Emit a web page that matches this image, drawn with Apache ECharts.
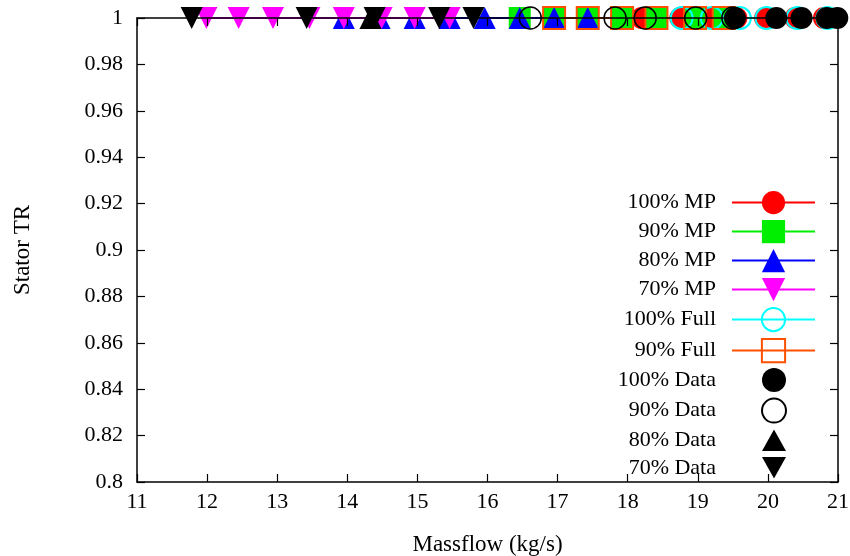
<!DOCTYPE html>
<html>
<head>
<meta charset="utf-8">
<script src="https://cdn.jsdelivr.net/npm/echarts@6/dist/echarts.min.js"></script>
<style>html,body{margin:0;padding:0;background:#fff;}#c{width:850px;height:556px;}</style>
</head>
<body>
<div id="c"></div>
<script>
const xTicks = [11,12,13,14,15,16,17,18,19,20,21];
const yTicks = [0.8,0.82,0.84,0.86,0.88,0.9,0.92,0.94,0.96,0.98,1];

const mp100X = [18.2, 18.75, 19.15, 19.55, 19.96, 20.39, 20.8];
const mp100Y = [1, 1, 1, 1, 1, 1, 1];
const mp90X = [16.46, 16.95, 17.43, 17.92, 18.41, 18.96, 19.37];
const mp90Y = [1, 1, 1, 1, 1, 1, 1];
const mp80X = [13.95, 14.46, 14.96, 15.46, 15.96, 16.46, 16.95, 17.43];
const mp80Y = [1, 1, 1, 1, 1, 1, 1, 1];
const mp70X = [11.99, 12.45, 12.94, 13.46, 13.95, 14.49, 14.96, 15.46];
const mp70Y = [1, 1, 1, 1, 1, 1, 1, 1];
const full100X = [18.77, 19.2, 19.6, 19.98, 20.42, 20.85];
const full100Y = [1, 1, 1, 1, 1, 1];
const full90X = [16.95, 17.43, 17.92, 18.41, 18.96, 19.37];
const full90Y = [1, 1, 1, 1, 1, 1];
const data100X = [19.53, 20.12, 20.48, 20.84, 20.99];
const data100Y = [1, 1, 1, 1, 1];
const data90X = [16.61, 17.82, 18.25, 18.97, 19.5];
const data90Y = [1, 1, 1, 1, 1];
const data80X = [14.33];
const data80Y = [1];
const data70X = [11.78, 13.42, 14.39, 15.31, 15.8];
const data70Y = [1, 1, 1, 1, 1];

const FONT = 'Liberation Serif';
const DOWN = 'path://M0,0L20,0L10,18Z';
const UP = 'path://M10,0L20,18L0,18Z';
const pts = (xs, ys) => xs.map((x, i) => [x, ys[i]]);

function lineSeries(name, xs, ys, color, symbol, open) {
  return {
    name, type: 'line', data: pts(xs, ys), xAxisIndex: 0, yAxisIndex: 0,
    symbol, symbolSize: 22, showAllSymbol: true, clip: false,
    lineStyle: { color, width: 2 },
    itemStyle: open ? { color: 'rgba(255,255,255,0)', borderColor: color, borderWidth: 2, opacity: 1 }
                    : { color, borderColor: color, borderWidth: 0, opacity: 1 },
    emphasis: { disabled: true }
  };
}
function dataSeries(name, xs, ys, symbol, open) {
  return {
    name, type: 'scatter', data: pts(xs, ys), xAxisIndex: 0, yAxisIndex: 0, z: 5,
    symbol, symbolSize: 22, clip: false,
    itemStyle: open ? { color: 'rgba(255,255,255,0)', borderColor: '#000', borderWidth: 1.5, opacity: 1 }
                    : { color: '#000', opacity: 1 },
    emphasis: { disabled: true }
  };
}

const chart = echarts.init(document.getElementById('c'), null, { renderer: 'canvas' });
const axisCommon = {
  axisLine: { show: true, lineStyle: { color: '#000', width: 1.5 } },
  axisTick: { show: true, inside: true, length: 8, lineStyle: { color: '#000', width: 1.2 } },
  splitLine: { show: false }
};
chart.setOption({
  animation: false,
  backgroundColor: '#fff',
  grid: { left: 137, right: 12, top: 18, bottom: 74, show: false, containLabel: false, outerBoundsMode: 'none' },
  xAxis: [
    Object.assign({
      type: 'value', min: 11, max: 21, interval: 1, position: 'bottom',
      name: 'Massflow (kg/s)', nameLocation: 'middle', nameGap: 51,
      nameTextStyle: { fontFamily: FONT, fontSize: 23, color: '#000' },
      axisLabel: { fontFamily: FONT, fontSize: 22, color: '#000', margin: 9 }
    }, axisCommon),
    Object.assign({
      type: 'value', min: 11, max: 21, interval: 1, position: 'top', z: 10,
      axisLabel: { show: false }
    }, axisCommon)
  ],
  yAxis: [
    Object.assign({
      type: 'value', min: 0.8, max: 1, interval: 0.02, position: 'left',
      name: 'Stator TR', nameLocation: 'middle', nameGap: 103,
      nameTextStyle: { fontFamily: FONT, fontSize: 23, color: '#000' },
      axisLabel: { fontFamily: FONT, fontSize: 22, color: '#000', margin: 14 }
    }, axisCommon),
    Object.assign({
      type: 'value', min: 0.8, max: 1, interval: 0.02, position: 'right', z: 10,
      axisLabel: { show: false }
    }, axisCommon)
  ],
  legend: [
    {
      orient: 'vertical', right: 29, top: 186, align: 'right',
      itemWidth: 83, itemHeight: 29, itemGap: 5.8,
      data: ['100% MP', '90% MP', '80% MP', '70% MP', '100% Full', '90% Full'],
      textStyle: { fontFamily: FONT, fontSize: 22, color: '#000', padding: [0, 11, 0, 0] },
      selectedMode: false
    },
    {
      orient: 'vertical', right: 58, top: 363, align: 'right',
      itemWidth: 24, itemHeight: 24, itemGap: 5.6,
      data: ['100% Data', '90% Data', '80% Data', '70% Data'],
      textStyle: { fontFamily: FONT, fontSize: 22, color: '#000', padding: [0, 41, 0, 0] },
      selectedMode: false
    }
  ],
  series: [
    lineSeries('100% MP', mp100X, mp100Y, '#ff0000', 'circle'),
    lineSeries('90% MP', mp90X, mp90Y, '#00ee00', 'rect'),
    lineSeries('80% MP', mp80X, mp80Y, '#0000ff', UP),
    lineSeries('70% MP', mp70X, mp70Y, '#ff00ff', DOWN),
    lineSeries('100% Full', full100X, full100Y, '#00ffff', 'circle', true),
    lineSeries('90% Full', full90X, full90Y, '#ff5000', 'rect', true),
    dataSeries('100% Data', data100X, data100Y, 'circle'),
    dataSeries('90% Data', data90X, data90Y, 'circle', true),
    dataSeries('80% Data', data80X, data80Y, UP),
    dataSeries('70% Data', data70X, data70Y, DOWN)
  ]
});
</script>
</body>
</html>
